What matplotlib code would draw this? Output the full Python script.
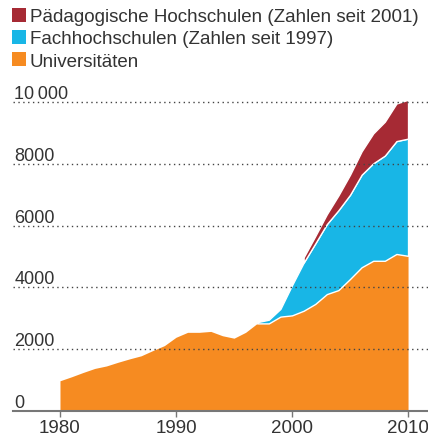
import numpy as np
import matplotlib
matplotlib.use('Agg')
import matplotlib.pyplot as plt
import matplotlib.transforms as mtransforms
from matplotlib.patches import Patch

plt.rcParams['font.family'] = ['Liberation Sans', 'DejaVu Sans']

# ── data (Anzahl) ────────────────────────────────────────────────────────────
uni_years = list(range(1980, 2011))
uni = [970, 1100, 1240, 1370, 1450, 1570, 1680, 1780, 1950, 2110,
       2380, 2540, 2540, 2570, 2430, 2350, 2540, 2830, 2830, 3050,
       3090, 3240, 3460, 3780, 3910, 4270, 4650, 4860, 4860, 5080, 5020]

fh_years = list(range(1997, 2011))
fh = [40, 120, 250, 980, 1560, 1960, 2270, 2590, 2730, 3000,
      3160, 3410, 3660, 3800]

ph_years = list(range(2001, 2011))
ph = [170, 240, 320, 480, 650, 760, 970, 1100, 1220, 1260]

labels = ['Pädagogische Hochschulen (Zahlen seit 2001)',
          'Fachhochschulen (Zahlen seit 1997)',
          'Universitäten']
colors = ['#a62a34', '#18b6e6', '#f68b21']

yticks = [0, 2000, 4000, 6000, 8000, 10000]
ytick_labels = ['0', '2000', '4000', '6000', '8000', '10\u2009000']
xticks = [1980, 1990, 2000, 2010]

# ── stacked layers ──────────────────────────────────────────────────────────
uni = np.array(uni, dtype=float)
fh_base = uni[np.isin(uni_years, fh_years)]
fh_top = fh_base + np.array(fh)
ph_base = fh_top[np.isin(fh_years, ph_years)]
ph_top = ph_base + np.array(ph)

fig = plt.figure(figsize=(4.28, 4.39), dpi=100)
ax = fig.add_axes([13 / 428, (439 - 411.7) / 439, 415 / 428, 323.9 / 439])

ax.fill_between(uni_years, 0, uni, color=colors[2], lw=0, zorder=2)
ax.fill_between(fh_years, fh_base, fh_top, facecolor=colors[1],
                edgecolor='white', lw=1.0, zorder=3)
ax.fill_between(ph_years, ph_base, ph_top, facecolor=colors[0],
                edgecolor='white', lw=1.0, zorder=4)

ax.set_xlim(1975.95, 2011.72)
ax.set_ylim(0, 10500)

for sp in ['top', 'right', 'left']:
    ax.spines[sp].set_visible(False)
ax.spines['bottom'].set_color('#777777')
ax.spines['bottom'].set_linewidth(1.5)
ax.spines['bottom'].set_zorder(6)

ax.set_xticks(xticks)
ax.tick_params(axis='x', direction='out', length=4, width=1, color='#777777',
               labelsize=13.5, labelcolor='#333333', pad=2)

# y labels sit on top of the dotted gridlines
ax.set_yticks([])
trans = mtransforms.blended_transform_factory(ax.transAxes, ax.transData)
trans = trans + mtransforms.ScaledTranslation(1 / 72, 4 / 100, fig.dpi_scale_trans)
for v, s in zip(yticks, ytick_labels):
    ax.text(0, v, s, transform=trans, ha='left', va='baseline',
            fontsize=13, color='#333333', zorder=7)
for v in yticks[1:]:
    ax.axhline(v, color='#444444', lw=1.0, ls=(0, (1, 2.5)), zorder=5)

handles = [Patch(facecolor=c, edgecolor='none') for c in colors]
leg = ax.legend(handles, labels, loc='upper left',
                bbox_to_anchor=(12 / 428, 1 - 9 / 439),
                bbox_transform=fig.transFigure, frameon=False,
                fontsize=13.5, handlelength=0.75, handleheight=0.75,
                handletextpad=0.2, labelspacing=0.25, borderpad=0,
                borderaxespad=0)
for t in leg.get_texts():
    t.set_color('#333333')

fig.savefig('out.png', dpi=100)
